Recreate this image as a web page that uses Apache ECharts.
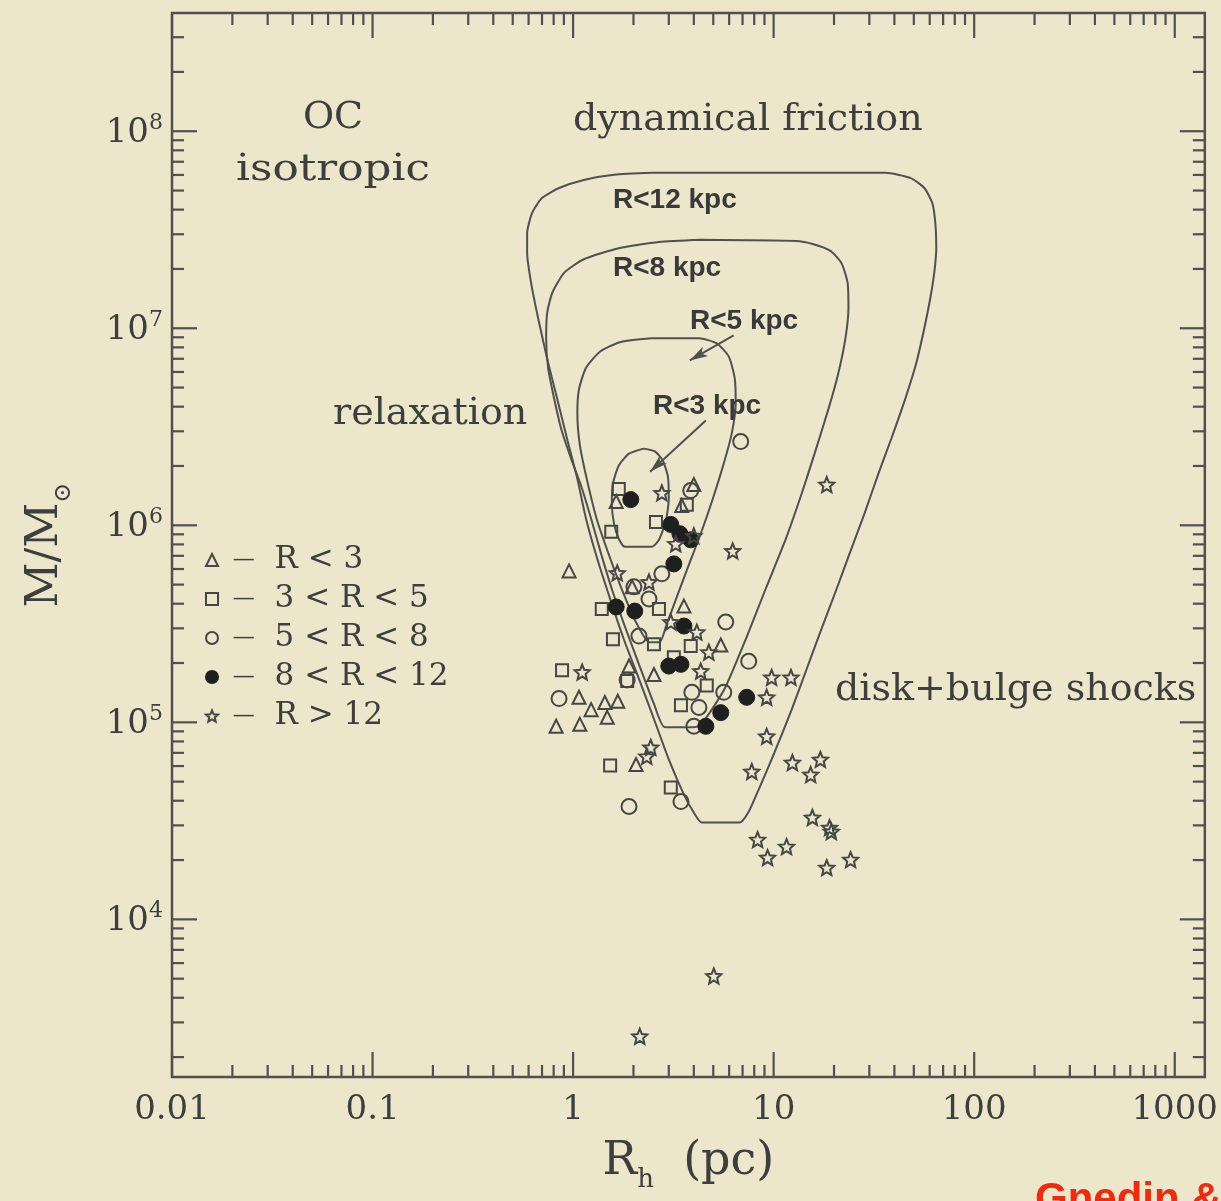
<!DOCTYPE html>
<html>
<head>
<meta charset="utf-8">
<script src="https://cdn.jsdelivr.net/npm/echarts@6/dist/echarts.min.js"></script>
<style>
  html, body { margin: 0; padding: 0; background: #ece6ca; }
  #chart { width: 1221px; height: 1201px; }
</style>
</head>
<body>
<div id="chart"></div>
<script>
// Globular cluster half-mass radius vs. mass, with survival regions
// for several galactocentric distances.

// ---- cluster samples, [R_h (pc), M (Msun)] ----
const clustersR3 = [
  [0.955, 5.87e5], [0.823, 9.55e4], [1.08, 9.77e4], [1.07, 1.34e5], [1.23, 1.16e5],
  [1.44, 1.26e5], [1.67, 1.28e5], [1.48, 1.06e5], [2.06, 6.11e4], [1.90, 1.93e5],
  [2.53, 1.75e5], [5.45, 2.47e5], [3.57, 3.89e5], [3.48, 1.26e6], [4.00, 1.61e6],
  [1.64, 1.32e6], [1.97, 4.87e5]
];
const clustersR3to5 = [
  [1.69, 1.53e6], [2.59, 1.04e6], [1.55, 9.27e5], [3.69, 1.27e6], [1.39, 3.76e5],
  [1.58, 2.64e5], [0.881, 1.84e5], [1.86, 1.62e5], [2.53, 2.49e5], [3.18, 2.14e5],
  [4.64, 1.54e5], [3.45, 1.22e5], [1.53, 6.04e4], [3.07, 4.67e4], [3.86, 2.44e5],
  [2.68, 3.76e5]
];
const clustersR5to8 = [
  [6.85, 2.66e6], [3.86, 1.50e6], [2.77, 5.67e5], [2.01, 4.87e5], [5.77, 3.23e5],
  [2.13, 2.74e5], [1.86, 1.64e5], [7.51, 2.04e5], [5.64, 1.42e5], [3.91, 1.42e5],
  [4.24, 1.19e5], [4.00, 9.55e4], [1.90, 3.74e4], [3.45, 3.96e4], [0.851, 1.32e5],
  [2.39, 4.23e5]
];
const clustersR8to12 = [
  [1.94, 1.35e6], [3.07, 1.01e6], [3.41, 9.06e5], [3.86, 8.44e5], [3.18, 6.37e5],
  [1.64, 3.85e5], [2.03, 3.67e5], [3.57, 3.08e5], [3.00, 1.93e5], [3.45, 1.97e5],
  [7.34, 1.34e5], [5.45, 1.12e5], [4.59, 9.55e4]
];
const clustersR12 = [
  [18.4, 1.61e6], [6.25, 7.41e5], [2.77, 1.46e6], [4.00, 8.85e5], [3.25, 8.05e5],
  [1.66, 5.73e5], [2.39, 5.15e5], [3.07, 3.23e5], [4.14, 2.87e5], [4.75, 2.27e5],
  [4.33, 1.82e5], [1.11, 1.80e5], [2.44, 7.46e4], [2.33, 6.72e4], [9.77, 1.69e5],
  [12.2, 1.69e5], [9.23, 1.34e5], [9.23, 8.49e4], [7.78, 5.63e4], [12.4, 6.25e4],
  [17.1, 6.48e4], [15.3, 5.43e4], [15.6, 3.29e4], [19.4, 2.79e4], [19.0, 2.92e4],
  [8.32, 2.54e4], [11.6, 2.34e4], [9.33, 2.06e4], [24.2, 2.01e4], [18.4, 1.83e4],
  [5.03, 5.16e3], [2.15, 2.55e3]
];

// ---- survival-region boundaries (closed outlines) ----
const regionR12 = [
  [2.47, 6.15e7], [36.1, 6.15e7], [48.0, 5.80e7], [56.4, 5.15e7], [61.8, 4.33e7],
  [64.0, 3.42e7], [64.7, 2.55e7], [63.2, 1.91e7], [60.4, 1.42e7], [56.4, 1.00e7],
  [51.4, 6.64e6], [45.4, 4.41e6], [38.6, 2.75e6], [33.3, 1.83e6], [28.4, 1.15e6],
  [24.4, 7.59e5], [20.6, 4.75e5], [17.3, 2.97e5], [14.6, 1.86e5], [12.3, 1.16e5],
  [10.1, 7.03e4], [8.42, 4.56e4], [7.51, 3.52e4], [6.77, 3.10e4], [4.38, 3.10e4],
  [4.00, 3.48e4], [3.57, 4.30e4], [3.00, 6.49e4], [2.53, 1.04e5], [2.13, 1.66e5],
  [1.79, 2.64e5], [1.53, 4.23e5], [1.32, 6.76e5], [1.16, 1.08e6], [1.05, 1.72e6],
  [0.933, 2.75e6], [0.832, 4.41e6], [0.742, 7.03e6], [0.670, 1.12e7], [0.618, 1.69e7],
  [0.590, 2.41e7], [0.590, 3.04e7], [0.625, 3.85e7], [0.701, 4.59e7], [0.852, 5.15e7],
  [1.13, 5.66e7], [1.60, 6.01e7], [2.47, 6.15e7]
];
const regionR8 = [
  [4.33, 2.81e7], [12.9, 2.77e7], [15.8, 2.67e7], [19.2, 2.47e7], [21.8, 2.14e7],
  [23.4, 1.69e7], [23.6, 1.26e7], [22.8, 8.89e6], [21.0, 5.90e6], [18.8, 3.92e6],
  [16.0, 2.31e6], [13.8, 1.45e6], [11.5, 8.53e5], [9.12, 4.75e5], [7.26, 2.64e5],
  [5.77, 1.52e5], [4.86, 1.14e5], [4.28, 9.66e4], [4.00, 9.43e4], [2.87, 9.43e4],
  [2.53, 1.24e5], [2.13, 1.97e5], [1.81, 3.08e5], [1.56, 4.75e5], [1.38, 7.16e5],
  [1.23, 1.08e6], [1.10, 1.57e6], [0.977, 2.18e6], [0.871, 3.10e6], [0.804, 4.41e6],
  [0.751, 6.25e6], [0.734, 8.89e6], [0.742, 1.19e7], [0.787, 1.51e7], [0.902, 1.91e7],
  [1.13, 2.24e7], [1.69, 2.55e7], [2.68, 2.74e7], [4.33, 2.81e7]
];
const regionR5 = [
  [2.47, 8.89e6], [4.24, 8.89e6], [5.20, 8.39e6], [5.97, 7.20e6], [6.40, 5.57e6],
  [6.47, 4.15e6], [6.18, 2.92e6], [5.64, 2.06e6], [4.97, 1.36e6], [4.33, 9.06e5],
  [3.76, 6.22e5], [3.29, 4.33e5], [2.93, 3.15e5], [2.70, 2.55e5], [2.40, 2.55e5],
  [2.05, 3.25e5], [1.74, 4.80e5], [1.50, 7.20e5], [1.31, 1.08e6], [1.17, 1.72e6],
  [1.08, 2.57e6], [1.05, 3.70e6], [1.07, 4.90e6], [1.16, 6.30e6], [1.36, 7.60e6],
  [1.71, 8.50e6], [2.47, 8.89e6]
];
const regionR3 = [
  [2.25, 2.45e6], [1.90, 2.31e6], [1.69, 2.01e6], [1.58, 1.63e6], [1.56, 1.29e6],
  [1.60, 1.02e6], [1.69, 8.53e5], [1.81, 7.78e5], [2.47, 7.78e5], [2.68, 8.44e5],
  [2.90, 1.05e6], [3.00, 1.36e6], [2.97, 1.77e6], [2.80, 2.13e6], [2.56, 2.37e6],
  [2.25, 2.45e6]
];

// ---- pointers from region captions, [start, tip] ----
const pointerR5 = [[6.32, 9.21e6], [3.82, 6.87e6]];
const pointerR3 = [[4.59, 3.40e6], [2.42, 1.87e6]];

// ---- axes ----
const xMin = 0.01, xMax = Math.pow(10, 3.15);
const yMin = Math.pow(10, 3.2), yMax = Math.pow(10, 8.6);
const xTickLabels = { '-2': '0.01', '-1': '0.1', '0': '1', '1': '10', '2': '100', '3': '1000' };
const yTickExponents = [4, 5, 6, 7, 8];
const seriesNames = ['R < 3', '3 < R < 5', '5 < R < 8', '8 < R < 12', 'R > 12'];

const ink = '#505050';
const markInk = '#464646';
const textInk = '#3e3e3e';
const paper = '#ece6ca';
const serif = '"DejaVu Serif", "Liberation Serif", serif';
const sans = '"Liberation Sans", Arial, sans-serif';
const hollow = 'rgba(0,0,0,0)';
const starPath = 'path://M100 0 L126.5 63.6 L195.1 69.1 L142.8 113.9 L158.8 180.9 L100 145 L41.2 180.9 L57.2 113.9 L4.9 69.1 L73.5 63.6 Z';

// log-decade ticks with 2..9 subdivisions, mirrored on the opposite frame side
function logTicks(lo, hi, fixed) {
  const out = [];
  for (let k = Math.floor(Math.log10(lo)) - 1; k <= Math.ceil(Math.log10(hi)); k++) {
    for (let m = 1; m <= 9; m++) {
      const v = m * Math.pow(10, k);
      if (v >= lo * 0.9999 && v <= hi * 1.0001) out.push(fixed(v, m === 1 ? 1 : 0));
    }
  }
  return out;
}
const xTicks = logTicks(xMin, xMax, (v, major) => [v, yMin, major]);
const yTicks = logTicks(yMin, yMax, (v, major) => [xMin, v, major]);

function tickRenderer(horizontal) {
  return function (params, api) {
    const cs = params.coordSys;
    const major = api.value(2);
    const len = major ? 25 : 12;
    const st = { stroke: ink, lineWidth: 2.2 };
    if (horizontal) {
      const px = api.coord([api.value(0), yMin])[0];
      const b = cs.y + cs.height;
      return { type: 'group', children: [
        { type: 'line', shape: { x1: px, y1: b, x2: px, y2: b - len }, style: st },
        { type: 'line', shape: { x1: px, y1: cs.y, x2: px, y2: cs.y + len }, style: st }
      ] };
    }
    const py = api.coord([xMin, api.value(1)])[1];
    const r = cs.x + cs.width;
    return { type: 'group', children: [
      { type: 'line', shape: { x1: cs.x, y1: py, x2: cs.x + len, y2: py }, style: st },
      { type: 'line', shape: { x1: r, y1: py, x2: r - len, y2: py }, style: st }
    ] };
  };
}

function region(name, data, pointer) {
  const s = {
    name: name, type: 'line', data: data, showSymbol: false, symbol: 'none',
    smooth: 0.2, silent: true, z: 3, clip: false,
    lineStyle: { color: ink, width: 2 }
  };
  if (pointer) {
    s.markLine = {
      silent: true, symbol: ['none', 'arrow'], symbolSize: [8, 18],
      label: { show: false },
      lineStyle: { color: ink, width: 2, type: 'solid' },
      data: [[{ coord: pointer[0] }, { coord: pointer[1] }]]
    };
  }
  return s;
}

function clusters(name, data, symbol, size, filled) {
  return {
    name: name, type: 'scatter', data: data, symbol: symbol, symbolSize: size, z: 5,
    itemStyle: filled
      ? { color: '#1f1f1f', borderColor: '#1f1f1f', borderWidth: 1, opacity: 1 }
      : { color: hollow, borderColor: markInk, borderWidth: 2, opacity: 1 }
  };
}

// text placed by its baseline
function caption(text, x, baseline, size, opts) {
  opts = opts || {};
  const el = {
    type: 'text', x: x, y: baseline - 0.35 * size, z: 10, silent: true,
    style: {
      text: text, font: (opts.weight || 'normal') + ' ' + size + 'px ' + (opts.family || serif),
      fill: opts.color || textInk, align: opts.align || 'left', verticalAlign: 'middle'
    }
  };
  if (opts.scaleX) el.scaleX = opts.scaleX;
  return el;
}

const chart = echarts.init(document.getElementById('chart'), null, { renderer: 'canvas' });

chart.setOption({
  backgroundColor: paper,
  animation: false,
  grid: {
    left: 172, right: 15, top: 13, bottom: 124,
    show: true, borderColor: ink, borderWidth: 2.5, backgroundColor: 'transparent'
  },
  xAxis: {
    type: 'log', logBase: 10, min: xMin, max: xMax,
    name: '{r|R}{h|h}{r|  (pc)}', nameLocation: 'middle', nameGap: 62,
    nameTextStyle: {
      rich: {
        r: { fontFamily: serif, fontSize: 46, color: textInk, verticalAlign: 'top', lineHeight: 54 },
        h: { fontFamily: serif, fontSize: 26, color: textInk, verticalAlign: 'bottom', lineHeight: 54 }
      }
    },
    axisLine: { show: false }, axisTick: { show: false }, splitLine: { show: false },
    axisLabel: {
      margin: 16, fontFamily: serif, fontSize: 34, color: textInk,
      formatter: function (v) {
        const e = Math.log10(v), k = Math.round(e);
        if (Math.abs(e - k) > 1e-6) return '';
        return xTickLabels[String(k)] || '';
      }
    }
  },
  yAxis: {
    type: 'log', logBase: 10, min: yMin, max: yMax,
    name: '{m|M/M}{o|\u2299}', nameLocation: 'middle', nameGap: 96,
    nameTextStyle: {
      rich: {
        m: { fontFamily: serif, fontSize: 44, color: textInk, verticalAlign: 'top', lineHeight: 52 },
        o: { fontFamily: serif, fontSize: 24, color: textInk, verticalAlign: 'bottom', lineHeight: 52 }
      }
    },
    axisLine: { show: false }, axisTick: { show: false }, splitLine: { show: false },
    axisLabel: {
      margin: 9, fontFamily: serif, color: textInk,
      formatter: function (v) {
        const e = Math.log10(v), k = Math.round(e);
        if (Math.abs(e - k) > 1e-6 || yTickExponents.indexOf(k) < 0) return '';
        return '{b|10}{s|' + k + '}';
      },
      rich: {
        b: { fontFamily: serif, fontSize: 34, color: textInk, lineHeight: 38, verticalAlign: 'bottom' },
        s: { fontFamily: serif, fontSize: 22, color: textInk, lineHeight: 38, verticalAlign: 'top' }
      }
    }
  },
  legend: {
    orient: 'vertical', left: 200, top: 539, itemWidth: 12, itemHeight: 12, itemGap: 7,
    selectedMode: false, data: seriesNames,
    formatter: function (n) { return ' {d|\u2014}  {t|' + n + '}'; },
    textStyle: {
      fontFamily: serif, fontSize: 31, color: textInk, lineHeight: 32,
      rich: {
        d: { fontFamily: serif, fontSize: 22, color: textInk },
        t: { fontFamily: serif, fontSize: 31, color: textInk }
      }
    }
  },
  graphic: [
    caption('OC', 333, 131, 38, { align: 'center' }),
    caption('isotropic', 333, 183, 38, { align: 'center', scaleX: 1.15 }),
    caption('dynamical friction', 573, 133, 38),
    caption('relaxation', 333, 427, 38),
    caption('disk+bulge shocks', 835, 703, 38),
    caption('R<12 kpc', 613, 210, 28, { family: sans, weight: 'bold', color: '#3a3a3a' }),
    caption('R<8 kpc', 613, 278, 28, { family: sans, weight: 'bold', color: '#3a3a3a' }),
    caption('R<5 kpc', 690, 331, 28, { family: sans, weight: 'bold', color: '#3a3a3a' }),
    caption('R<3 kpc', 653, 416, 28, { family: sans, weight: 'bold', color: '#3a3a3a' }),
    caption('Gnedin & Ostriker 1997', 1035, 1215, 42, { family: sans, weight: 'bold', color: '#f4280c' })
  ],
  series: [
    { type: 'custom', name: 'xticks', data: xTicks, renderItem: tickRenderer(true), silent: true, z: 2, clip: false },
    { type: 'custom', name: 'yticks', data: yTicks, renderItem: tickRenderer(false), silent: true, z: 2, clip: false },
    region('R<12 kpc', regionR12),
    region('R<8 kpc', regionR8),
    region('R<5 kpc', regionR5, pointerR5),
    region('R<3 kpc', regionR3, pointerR3),
    clusters(seriesNames[0], clustersR3, 'triangle', 13, false),
    clusters(seriesNames[1], clustersR3to5, 'rect', 12, false),
    clusters(seriesNames[2], clustersR5to8, 'circle', 15, false),
    clusters(seriesNames[3], clustersR8to12, 'circle', 16, true),
    clusters(seriesNames[4], clustersR12, starPath, 15, false)
  ]
});
</script>
</body>
</html>
